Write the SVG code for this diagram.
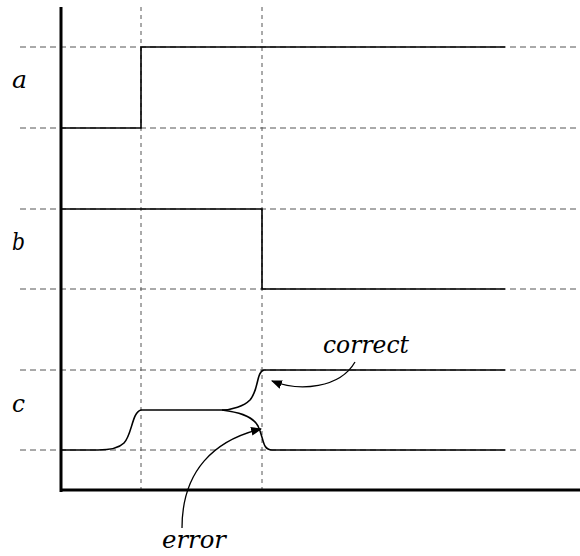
<svg xmlns="http://www.w3.org/2000/svg" width="580" height="556" viewBox="0 0 580 556">
<defs>
<marker id="ah" viewBox="0 0 10 10" refX="9" refY="5" markerWidth="11" markerHeight="11" markerUnits="userSpaceOnUse" orient="auto">
<path d="M0,1 L10,5 L0,9 z" fill="#000"/>
</marker>
<style>
.grid{stroke:#555;stroke-width:1;stroke-dasharray:6,4;fill:none}
.vgrid{stroke:#555;stroke-width:1;stroke-dasharray:4,4;fill:none}
.sig{stroke:#000;stroke-width:1.6;fill:none}
.axis{stroke:#000;stroke-width:3;fill:none}
.arr{stroke:#000;stroke-width:1.3;fill:none;marker-end:url(#ah)}
.lbl{font-family:"DejaVu Serif","Liberation Serif",serif;font-style:italic;font-size:24px;fill:#000}
</style>
</defs>
<rect width="580" height="556" fill="#fff"/>
<g id="grid">
<line class="grid" x1="20" y1="47" x2="580" y2="47"/>
<line class="grid" x1="20" y1="128" x2="580" y2="128"/>
<line class="grid" x1="20" y1="209" x2="580" y2="209"/>
<line class="grid" x1="20" y1="289" x2="580" y2="289"/>
<line class="grid" x1="20" y1="370" x2="580" y2="370"/>
<line class="grid" x1="20" y1="450" x2="580" y2="450"/>
<line class="vgrid" x1="141" y1="7" x2="141" y2="495"/>
<line class="vgrid" x1="262" y1="7" x2="262" y2="495"/>
</g>
<g id="axes">
<line class="axis" x1="61" y1="7" x2="61" y2="492"/>
<line class="axis" x1="60" y1="490" x2="580" y2="490"/>
</g>
<g id="signal-a">
<polyline class="sig" points="61,128 141,128 141,47 505,47"/>
<text class="lbl" x="12" y="88" textLength="15" lengthAdjust="spacingAndGlyphs">a</text>
</g>
<g id="signal-b">
<polyline class="sig" points="61,209 262,209 262,289 505,289"/>
<text class="lbl" x="12" y="250" textLength="13" lengthAdjust="spacingAndGlyphs">b</text>
</g>
<g id="signal-c">
<path class="sig" d="M61,450 L98,450 C112,450 120,447 124,443 C132,435 132,412 141,410 L222,410"/>
<path class="sig" d="M222,410 C232,410 244,406 250,400 C259,390 256,372 264,370 L505,370"/>
<path class="sig" d="M222,410 C236,412 252,415 258,426 C264,438 262,450 272,450 L505,450"/>
<text class="lbl" x="12" y="412" textLength="13" lengthAdjust="spacingAndGlyphs">c</text>
</g>
<g id="connectors">
<path class="arr" d="M355,362 C340,388 300,392 272,381"/>
<path class="arr" d="M182,528 C182,470 215,440 261,429"/>
</g>
<g id="labels">
<text class="lbl" x="323" y="353" textLength="86" lengthAdjust="spacingAndGlyphs">correct</text>
<text class="lbl" x="162" y="548" textLength="64" lengthAdjust="spacingAndGlyphs">error</text>
</g>
</svg>
